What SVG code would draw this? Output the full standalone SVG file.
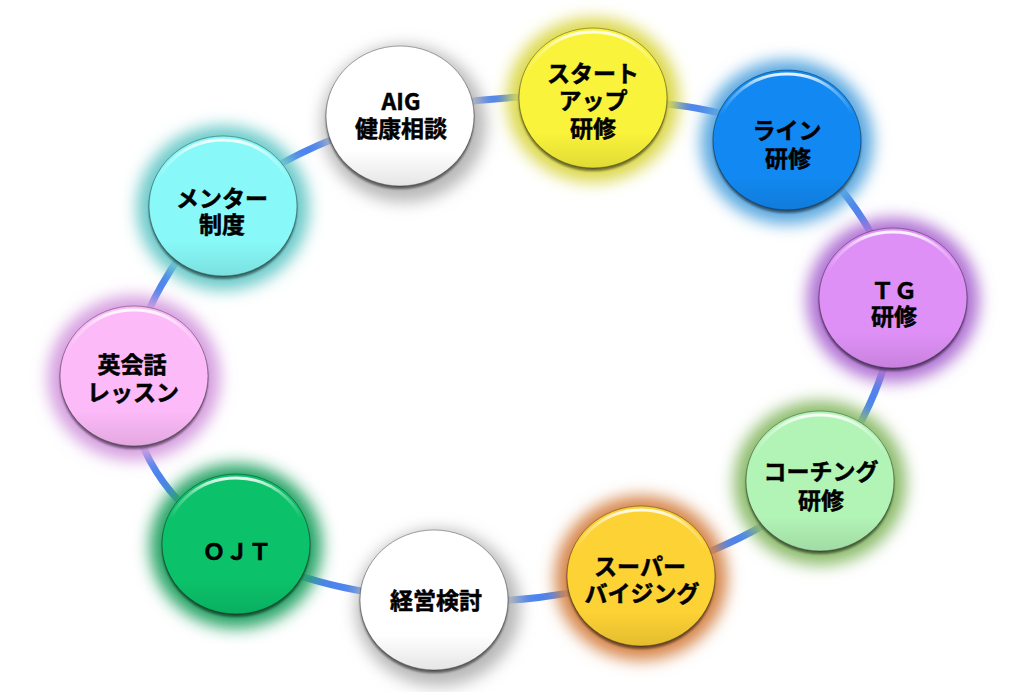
<svg xmlns="http://www.w3.org/2000/svg" width="1024" height="692" viewBox="0 0 1024 692">
<defs>
<filter id="glow" x="-40%" y="-40%" width="180%" height="180%"><feGaussianBlur stdDeviation="8"/></filter>
<filter id="soft" x="-20%" y="-20%" width="140%" height="140%"><feGaussianBlur stdDeviation="1.2"/></filter>
<linearGradient id="hl" x1="0" y1="0" x2="0" y2="1">
<stop offset="0" stop-color="#fff" stop-opacity="0.9"/>
<stop offset="0.12" stop-color="#fff" stop-opacity="0.35"/>
<stop offset="0.3" stop-color="#fff" stop-opacity="0"/>
</linearGradient>
<linearGradient id="sh" x1="0" y1="0" x2="0" y2="1">
<stop offset="0.75" stop-color="#000" stop-opacity="0"/>
<stop offset="1" stop-color="#000" stop-opacity="0.1"/>
</linearGradient>
</defs>
<style>
.glow{filter:url(#glow)}
.rim{fill:#000;fill-opacity:0.5;filter:url(#soft)}
.body{stroke:#000;stroke-opacity:0.35;stroke-width:1}
.hl{fill:none;stroke:url(#hl);stroke-width:3}
.sh{fill:url(#sh)}
.lbl{font-family:"Noto Sans CJK JP","Noto Sans",sans-serif;font-weight:700;font-size:23px;fill:#000;stroke:#000;stroke-width:0.5;text-anchor:middle;dominant-baseline:central}
.link{fill:none;stroke:#4d84ee;stroke-width:7;stroke-linecap:round}
</style>
<rect width="1024" height="692" fill="#fff"/>
<g id="connectors">
<path class="link" d="M400,116 C461.7,98 528.5,94 593,98 C657.5,102 737,106.7 787,140 C837,173.3 887.5,241.2 893,298 C898.5,354.8 862,434.7 820,481 C778,527.3 705.3,556.2 641,576 C576.7,595.8 501.5,605.3 434,600 C366.5,594.7 286,581.3 236,544 C172,512 122,440 134,376 C131.8,319.7 178.7,249.3 223,206 C267.3,162.7 338.3,134 400,116 Z"/>
</g>
<g id="aig">
<ellipse class="glow" cx="404" cy="124" rx="82" ry="78" fill="#b8b8b8"/>
<ellipse class="rim" cx="400" cy="119" rx="74" ry="70"/>
<ellipse class="body" cx="400" cy="116" rx="74" ry="70" fill="#ffffff"/>
<ellipse class="sh" cx="400" cy="116" rx="74" ry="70"/>
<ellipse class="hl" cx="400" cy="117" rx="71" ry="67"/>
<text class="lbl"><tspan x="401" y="100">AIG</tspan><tspan x="401" y="127">健康相談</tspan></text>
</g>
<g id="startup">
<ellipse class="glow" cx="593" cy="100" rx="86" ry="82" fill="#dcd84c"/>
<ellipse class="rim" cx="593" cy="101" rx="74" ry="70"/>
<ellipse class="body" cx="593" cy="98" rx="74" ry="70" fill="#f9f33b"/>
<ellipse class="sh" cx="593" cy="98" rx="74" ry="70"/>
<ellipse class="hl" cx="593" cy="99" rx="71" ry="67"/>
<text class="lbl"><tspan x="593" y="72">スタート</tspan><tspan x="593" y="99">アップ</tspan><tspan x="593" y="127">研修</tspan></text>
</g>
<g id="line">
<ellipse class="glow" cx="787" cy="142" rx="86" ry="82" fill="#5aa8e0"/>
<ellipse class="rim" cx="787" cy="143" rx="74" ry="70"/>
<ellipse class="body" cx="787" cy="140" rx="74" ry="70" fill="#1289f2"/>
<ellipse class="sh" cx="787" cy="140" rx="74" ry="70"/>
<ellipse class="hl" cx="787" cy="141" rx="71" ry="67"/>
<text class="lbl"><tspan x="787" y="129">ライン</tspan><tspan x="788" y="157">研修</tspan></text>
</g>
<g id="tg">
<ellipse class="glow" cx="893" cy="300" rx="86" ry="82" fill="#b072d4"/>
<ellipse class="rim" cx="893" cy="301" rx="74" ry="70"/>
<ellipse class="body" cx="893" cy="298" rx="74" ry="70" fill="#de90f6"/>
<ellipse class="sh" cx="893" cy="298" rx="74" ry="70"/>
<ellipse class="hl" cx="893" cy="299" rx="71" ry="67"/>
<text class="lbl"><tspan x="894" y="289">ＴＧ</tspan><tspan x="894" y="315">研修</tspan></text>
</g>
<g id="coaching">
<ellipse class="glow" cx="820" cy="483" rx="86" ry="82" fill="#8cbc6c"/>
<ellipse class="rim" cx="820" cy="484" rx="74" ry="70"/>
<ellipse class="body" cx="820" cy="481" rx="74" ry="70" fill="#b2f4b6"/>
<ellipse class="sh" cx="820" cy="481" rx="74" ry="70"/>
<ellipse class="hl" cx="820" cy="482" rx="71" ry="67"/>
<text class="lbl"><tspan x="821" y="470">コーチング</tspan><tspan x="821" y="499">研修</tspan></text>
</g>
<g id="supervising">
<ellipse class="glow" cx="641" cy="578" rx="86" ry="82" fill="#d68548"/>
<ellipse class="rim" cx="641" cy="579" rx="74" ry="70"/>
<ellipse class="body" cx="641" cy="576" rx="74" ry="70" fill="#fdd235" stroke="#3a5a9a" stroke-opacity="0.6"/>
<ellipse class="sh" cx="641" cy="576" rx="74" ry="70"/>
<ellipse class="hl" cx="641" cy="577" rx="71" ry="67"/>
<text class="lbl"><tspan x="640" y="565">スーパー</tspan><tspan x="642" y="592">バイジング</tspan></text>
</g>
<g id="keiei">
<ellipse class="glow" cx="438" cy="608" rx="82" ry="78" fill="#b8b8b8"/>
<ellipse class="rim" cx="434" cy="603" rx="74" ry="70"/>
<ellipse class="body" cx="434" cy="600" rx="74" ry="70" fill="#ffffff"/>
<ellipse class="sh" cx="434" cy="600" rx="74" ry="70"/>
<ellipse class="hl" cx="434" cy="601" rx="71" ry="67"/>
<text class="lbl" x="436" y="599">経営検討</text>
</g>
<g id="ojt">
<ellipse class="glow" cx="236" cy="546" rx="86" ry="82" fill="#28a466"/>
<ellipse class="rim" cx="236" cy="547" rx="74" ry="70"/>
<ellipse class="body" cx="236" cy="544" rx="74" ry="70" fill="#0bc26a"/>
<ellipse class="sh" cx="236" cy="544" rx="74" ry="70"/>
<ellipse class="hl" cx="236" cy="545" rx="71" ry="67"/>
<text class="lbl" x="237" y="550">ＯＪＴ</text>
</g>
<g id="eikaiwa">
<ellipse class="glow" cx="134" cy="378" rx="86" ry="82" fill="#d69ee0"/>
<ellipse class="rim" cx="134" cy="379" rx="74" ry="70"/>
<ellipse class="body" cx="134" cy="376" rx="74" ry="70" fill="#fcbaf8"/>
<ellipse class="sh" cx="134" cy="376" rx="74" ry="70"/>
<ellipse class="hl" cx="134" cy="377" rx="71" ry="67"/>
<text class="lbl"><tspan x="132" y="363">英会話</tspan><tspan x="133" y="391">レッスン</tspan></text>
</g>
<g id="mentor">
<ellipse class="glow" cx="223" cy="208" rx="86" ry="82" fill="#6ccaca"/>
<ellipse class="rim" cx="223" cy="209" rx="74" ry="70"/>
<ellipse class="body" cx="223" cy="206" rx="74" ry="70" fill="#88f9f8"/>
<ellipse class="sh" cx="223" cy="206" rx="74" ry="70"/>
<ellipse class="hl" cx="223" cy="207" rx="71" ry="67"/>
<text class="lbl"><tspan x="222" y="197">メンター</tspan><tspan x="222" y="223">制度</tspan></text>
</g>
</svg>
